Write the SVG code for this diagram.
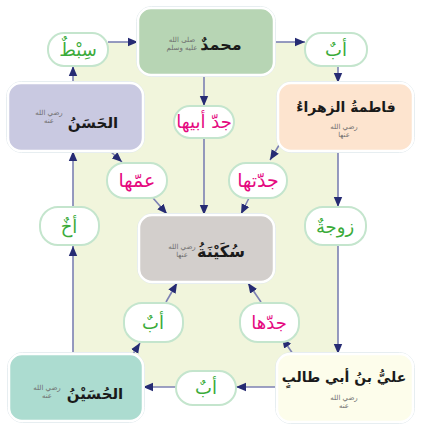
<svg xmlns="http://www.w3.org/2000/svg" width="421" height="429" viewBox="0 0 421 429">
<style>
.node{stroke:#ffffff;stroke-width:2.5}
.halo{fill:none;stroke:#dfe8ec;stroke-width:1}
.pill{fill:#ffffff;stroke:#c4e5cd;stroke-width:2}
.name{font-family:"DejaVu Sans",sans-serif;font-weight:bold;font-size:16px;fill:#1a1a1a;text-anchor:middle}
.hon{font-family:"DejaVu Sans",sans-serif;font-size:7px;fill:#6e6e6e;text-anchor:middle}
.g{font-family:"DejaVu Sans",sans-serif;font-size:18px;fill:#3bab3a;text-anchor:middle}
.m{font-family:"DejaVu Sans",sans-serif;font-size:18px;fill:#e5097f;text-anchor:middle}
.c{fill:none;stroke:#7c80b3;stroke-width:1.6}
</style>
<defs>
<marker id="ah" markerUnits="userSpaceOnUse" markerWidth="10" markerHeight="10" viewBox="0 0 10 10" refX="10" refY="5" orient="auto">
<path d="M0,0.8 L10,5 L0,9.2 Z" fill="#262b73"/>
</marker>
</defs>
<rect x="73" y="42" width="265" height="345" fill="#f1f5dc"/>
<g id="connectors">
<path class="c" marker-end="url(#ah)" d="M108,42 H138"/>
<path class="c" marker-end="url(#ah)" d="M274,42 H305"/>
<path class="c" marker-end="url(#ah)" d="M338,66 V83"/>
<path class="c" marker-end="url(#ah)" d="M338,151 V207"/>
<path class="c" marker-end="url(#ah)" d="M338,245 V354"/>
<path class="c" marker-end="url(#ah)" d="M277,387 H236"/>
<path class="c" marker-end="url(#ah)" d="M176,387 H143"/>
<path class="c" marker-end="url(#ah)" d="M73,354 V246"/>
<path class="c" marker-end="url(#ah)" d="M73,207 V151"/>
<path class="c" marker-end="url(#ah)" d="M73,83 V66"/>
<path class="c" marker-end="url(#ah)" d="M204,74 V106"/>
<path class="c" marker-end="url(#ah)" d="M204,138 V215"/>
<path class="c" marker-end="url(#ah)" d="M110,151 L122,162"/>
<path class="c" marker-end="url(#ah)" d="M153,198 L167,214"/>
<path class="c" marker-end="url(#ah)" d="M281,142 L270,160"/>
<path class="c" marker-end="url(#ah)" d="M250,196 L241,214"/>
<path class="c" marker-end="url(#ah)" d="M133,354 L140,343"/>
<path class="c" marker-end="url(#ah)" d="M166,302 L177,283"/>
<path class="c" marker-end="url(#ah)" d="M293,354 L282,338"/>
<path class="c" marker-end="url(#ah)" d="M261,302 L248,283"/>
</g>
<g id="muhammad">
<rect class="halo" x="136.5" y="6.5" width="139" height="70" rx="15"/>
<rect class="node" x="138" y="8" width="136" height="67" rx="13" fill="#b7d5b4"/>
<text class="name" x="221" y="50">محمدٌ</text>
<text class="hon" x="182" y="42">صلى الله</text>
<text class="hon" x="182" y="50">عليه وسلم</text>
</g>
<g id="hasan">
<rect class="halo" x="6.5" y="81.5" width="138" height="71" rx="15"/>
<rect class="node" x="8" y="83" width="135" height="68" rx="13" fill="#c9c9e1"/>
<text class="name" x="93" y="128" style="font-size:15px">الحَسَنُ</text>
<text class="hon" x="49" y="115">رضي الله</text>
<text class="hon" x="49" y="123">عنه</text>
</g>
<g id="fatima">
<rect class="halo" x="276.5" y="81.5" width="138" height="71" rx="15"/>
<rect class="node" x="278" y="83" width="135" height="68" rx="13" fill="#fde4cf"/>
<text class="name" x="346" y="112" style="font-size:14px">فاطمةُ الزهراءُ</text>
<text class="hon" x="344" y="129">رضي الله</text>
<text class="hon" x="344" y="137">عنها</text>
</g>
<g id="sukayna">
<rect class="halo" x="137.5" y="213.5" width="138" height="70" rx="15"/>
<rect class="node" x="139" y="215" width="135" height="67" rx="13" fill="#d3cfcc"/>
<text class="name" x="221" y="257">سُكَيْنَةُ</text>
<text class="hon" x="182" y="249">رضي الله</text>
<text class="hon" x="182" y="257">عنها</text>
</g>
<g id="husayn">
<rect class="halo" x="7.5" y="352.5" width="137" height="70" rx="15"/>
<rect class="node" x="9" y="354" width="134" height="67" rx="13" fill="#acdcd0"/>
<text class="name" x="95" y="399" style="font-size:15px">الحُسَيْنُ</text>
<text class="hon" x="47" y="390">رضي الله</text>
<text class="hon" x="47" y="398">عنه</text>
</g>
<g id="ali">
<rect class="halo" x="275.5" y="352.5" width="139" height="71" rx="15"/>
<rect class="node" x="277" y="354" width="136" height="68" rx="13" fill="#fdfdeb"/>
<text class="name" x="344" y="382" style="font-size:14px">عليُّ بنُ أبي طالبٍ</text>
<text class="hon" x="344" y="400">رضي الله</text>
<text class="hon" x="344" y="408">عنه</text>
</g>
<g id="l-sibt"><rect class="pill" x="48" y="33" width="60" height="33" rx="16"/><text class="g" x="78" y="56">سِبْطٌ</text></g>
<g id="l-ab1"><rect class="pill" x="305" y="33" width="62" height="33" rx="16"/><text class="g" x="336" y="56">أبٌ</text></g>
<g id="l-jadd-abiha"><rect class="pill" x="174" y="106" width="60" height="32" rx="16"/><text class="m" x="204" y="128">جدّ أبيها</text></g>
<g id="l-ammuha"><rect class="pill" x="107" y="163" width="60" height="35" rx="17"/><text class="m" x="137" y="187" style="font-size:19px">عمّها</text></g>
<g id="l-jaddatuha"><rect class="pill" x="229" y="163" width="58" height="35" rx="17"/><text class="m" x="258" y="187" style="font-size:19px">جدّتها</text></g>
<g id="l-akh"><rect class="pill" x="40" y="207" width="59" height="38" rx="18"/><text class="g" x="69" y="233">أخٌ</text></g>
<g id="l-zawja"><rect class="pill" x="305" y="207" width="61" height="38" rx="18"/><text class="g" x="335" y="233">زوجةٌ</text></g>
<g id="l-ab2"><rect class="pill" x="124" y="303" width="59" height="39" rx="18"/><text class="g" x="153" y="329">أبٌ</text></g>
<g id="l-jadduha"><rect class="pill" x="240" y="303" width="59" height="39" rx="18"/><text class="m" x="269" y="329">جدّها</text></g>
<g id="l-ab3"><rect class="pill" x="176" y="371" width="60" height="34" rx="17"/><text class="g" x="206" y="394">أبٌ</text></g>
</svg>
